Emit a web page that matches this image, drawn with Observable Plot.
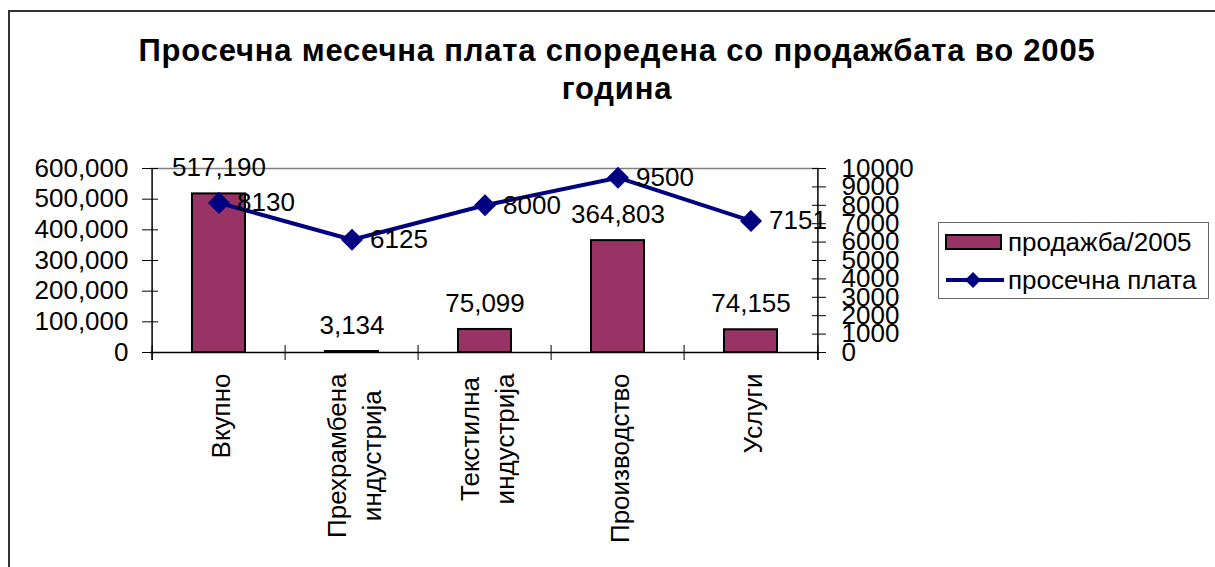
<!DOCTYPE html>
<html>
<head>
<meta charset="utf-8">
<script src="https://cdn.jsdelivr.net/npm/d3@7"></script>
<script src="https://cdn.jsdelivr.net/npm/@observablehq/plot@0.6"></script>
<style>
html, body { margin: 0; padding: 0; background: #fff; overflow: hidden; }
#page { position: relative; width: 1215px; height: 567px; overflow: hidden; font-family: "Liberation Sans", Arial, sans-serif; color: #000; }
#frame { position: absolute; left: 8px; top: 10px; width: 1400px; height: 800px; border: 2px solid #333; }
#title { position: absolute; left: 0; top: 32px; width: 1234px; text-align: center; font-weight: bold; font-size: 31px; letter-spacing: 0.8px; line-height: 38px; }
.layer { position: absolute; left: 0; top: 0; }
#legend { position: absolute; left: 938px; top: 222px; width: 271px; height: 77px; box-sizing: border-box; border: 1px solid #666; background: #fff; }
.lg-item { position: absolute; left: 0; height: 30px; width: 270px; }
.lg-item svg { position: absolute; left: 5px; top: 5px; }
.lg-item span { position: absolute; left: 69px; top: 0; font-size: 26px; line-height: 30px; white-space: nowrap; }
</style>
</head>
<body>
<div id="page">
  <div id="frame"></div>
  <div id="title"></div>
  <div id="chart1" class="layer"></div>
  <div id="chart2" class="layer"></div>
  <div id="legend"></div>
</div>
<script>
// ---- data ----
const titleLines = ["Просечна месечна плата споредена со продажбата во 2005", "година"];
const categories = ["Вкупно", "Прехрамбена индустрија", "Текстилна индустрија", "Производство", "Услуги"];
const categoryLabels = ["Вкупно", "Прехрамбена\nиндустрија", "Текстилна\nиндустрија", "Производство", "Услуги"];
const sales = [517190, 3134, 75099, 364803, 74155];
const salary = [8130, 6125, 8000, 9500, 7151];
const leftTicks = [0, 100000, 200000, 300000, 400000, 500000, 600000];
const rightTicks = [0, 1000, 2000, 3000, 4000, 5000, 6000, 7000, 8000, 9000, 10000];
const seriesNames = ["продажба/2005", "просечна плата"];

// ---- layout ----
const FONT = "'Liberation Sans', Arial, sans-serif";
const W = 1215, H = 567;
const M = {top: 168, right: 396, bottom: 215, left: 150};
const innerW = W - M.left - M.right;
const innerH = H - M.top - M.bottom;
const step = innerW / categories.length;
const BAR = "#993366", LINE = "#000080";

const titleEl = document.getElementById("title");
titleLines.forEach((t, i) => {
  if (i) titleEl.appendChild(document.createElement("br"));
  titleEl.appendChild(document.createTextNode(t));
});

const salesData = categories.map((c, i) => ({cat: c, label: categoryLabels[i], sales: sales[i]}));
const salaryData = categories.map((c, i) => ({cat: c, salary: salary[i]}));

const ctx = document.createElement("canvas").getContext("2d");
ctx.font = "26px " + FONT;
const maxLine = (s) => d3.max(s.split("\n"), (l) => ctx.measureText(l).width);

const xOpts = {type: "band", domain: categories, paddingInner: 0.6, paddingOuter: 0.3, axis: null};
const common = {
  width: W, height: H,
  marginTop: M.top, marginRight: M.right, marginBottom: M.bottom, marginLeft: M.left,
  style: {background: "transparent", fontFamily: FONT, fontSize: "26px", color: "#000", overflow: "visible"}
};

const plot1 = Plot.plot({
  ...common,
  x: xOpts,
  y: {domain: [0, 600000], axis: null},
  marks: [
    Plot.ruleY([600000], {stroke: "#808080", strokeWidth: 1.5}),
    Plot.barY(salesData, {x: "cat", y: "sales", fill: BAR, stroke: "#000", strokeWidth: 2}),
    Plot.ruleY([0], {stroke: "#000", strokeWidth: 1.5}),
    Plot.ruleX([categories[0]], {x: (d) => d, dx: -step / 2, stroke: "#000", strokeWidth: 1.5, insetBottom: -8}),
    Plot.tickX(categories, {x: (d) => d, dx: -step / 2, stroke: "#000", insetTop: innerH - 7, insetBottom: -8}),
    Plot.tickX([categories[categories.length - 1]], {x: (d) => d, dx: step / 2, stroke: "#000", insetTop: innerH - 7, insetBottom: -8}),
    Plot.tickY(leftTicks, {y: (d) => d, stroke: "#000", insetLeft: -8, insetRight: innerW - 8}),
    Plot.axisY(leftTicks, {anchor: "left", tickSize: 0, tickPadding: 22, tickFormat: d3.format(","), label: null}),
    Plot.text(salesData, {x: "cat", y: "sales", text: (d) => d3.format(",")(d.sales), dy: -26, fill: "#000"}),
    ...salesData.map((d) => Plot.text([d], {
      x: "cat", frameAnchor: "bottom", text: "label", rotate: -90,
      textAnchor: "middle", lineAnchor: "middle", lineHeight: 1.38,
      dy: 21 + maxLine(d.label) / 2, fill: "#000"
    }))
  ]
});
document.getElementById("chart1").appendChild(plot1);

const plot2 = Plot.plot({
  ...common,
  x: xOpts,
  y: {domain: [0, 10000], axis: null},
  marks: [
    Plot.ruleX([categories[categories.length - 1]], {x: (d) => d, dx: step / 2, stroke: "#000", strokeWidth: 1.5, insetBottom: -8}),
    Plot.tickY(rightTicks, {y: (d) => d, stroke: "#000", insetLeft: innerW - 7, insetRight: -7}),
    Plot.axisY(rightTicks, {anchor: "right", tickSize: 0, tickPadding: 22, tickFormat: (d) => String(d), label: null}),
    Plot.line(salaryData, {x: "cat", y: "salary", stroke: LINE, strokeWidth: 4}),
    Plot.dot(salaryData, {x: "cat", y: "salary", symbol: "diamond2", r: 9, fill: LINE, stroke: LINE}),
    Plot.text(salaryData, {x: "cat", y: "salary", text: (d) => String(d.salary), textAnchor: "start", dx: 18, fill: "#000"})
  ]
});
document.getElementById("chart2").appendChild(plot2);

// ---- legend ----
const legend = document.getElementById("legend");
legend.innerHTML = `
  <div class="lg-item" style="top:4px">
    <svg width="62" height="20"><rect x="2" y="3" width="55" height="14" fill="${BAR}" stroke="#000" stroke-width="2"/></svg>
    <span>${seriesNames[0]}</span>
  </div>
  <div class="lg-item" style="top:42px">
    <svg width="62" height="20"><line x1="2" y1="10" x2="60" y2="10" stroke="${LINE}" stroke-width="4"/>
      <path d="M29,2 L37,10 L29,18 L21,10 Z" fill="${LINE}"/></svg>
    <span>${seriesNames[1]}</span>
  </div>`;
</script>
</body>
</html>
